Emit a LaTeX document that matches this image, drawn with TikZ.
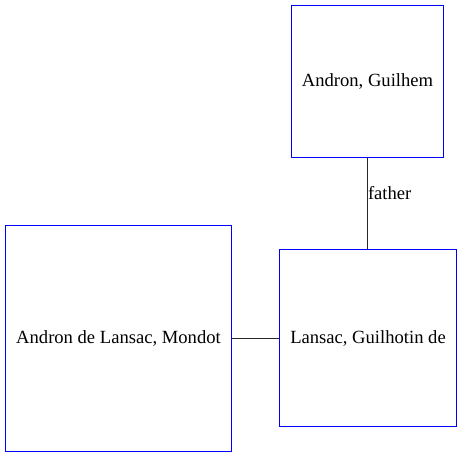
\documentclass[tikz,border=0pt]{standalone}
\usepackage{fontspec}
\setmainfont{Liberation Serif}
\begin{document}
\begin{tikzpicture}[x=1pt,y=-1pt,
  person/.style={draw=blue, line width=1pt, fill=white, inner sep=0pt, font=\fontsize{18.6}{22}\selectfont},
  link/.style={draw=black!85, line width=1pt},
  lbl/.style={font=\fontsize{18.6}{22}\selectfont, inner sep=0pt, anchor=west}]
\useasboundingbox (0,0) rectangle (462,457);
\node[person, minimum width=152pt, minimum height=152pt] (guilhem) at (367.5,81.5) {Andron, Guilhem};
\node[person, minimum width=226pt, minimum height=226pt] (mondot) at (118.5,338.5) {Andron de Lansac, Mondot};
\node[person, minimum width=177pt, minimum height=177pt] (guilhotin) at (368,338) {Lansac, Guilhotin de};
\draw[link] (guilhem.south) -- node[lbl, pos=0.38] {father} (guilhem.south |- guilhotin.north);
\draw[link] (mondot.east) -- (mondot.east -| guilhotin.west);
\end{tikzpicture}
\end{document}
